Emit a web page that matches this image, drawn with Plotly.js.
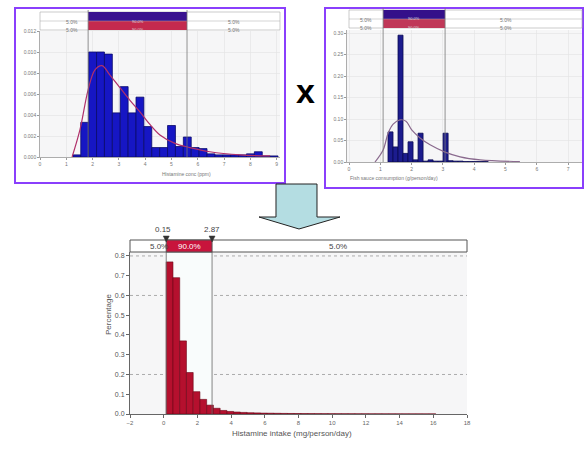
<!DOCTYPE html>
<html><head><meta charset="utf-8">
<script src="https://cdn.plot.ly/plotly-3.0.1.min.js"></script>
<style>html,body{margin:0;padding:0;background:#fff}</style>
</head><body><div id="chart" style="width:584px;height:449px"></div>
<script>
// ---------- DATA ----------
// top-left: histamine concentration
const concBinStart = 1.25, concBinWidth = 0.3;
const concValues = [0.0002,0.0033,0.0100,0.0100,0.0098,0.0042,0.0067,0.0042,0.0057,0.0029,0.0009,0.0009,0.0030,0.0010,0.0019,0.0009,0.0008,0.0003,0.0002,0.0002,0.0002,0.0002,0.0003,0.0005,0.0001,0.0001];
const concFitX = [1.22,1.52,1.83,2.09,2.36,2.66,3.04,3.42,3.80,4.18,4.56,5.13,5.70,6.46,7.61,8.75];
const concFitY = [0,0.0026,0.0064,0.0083,0.0087,0.0078,0.0066,0.0054,0.0043,0.0031,0.0021,0.0013,0.0009,0.0005,0.0002,0.0001];
const concXTicks = [0,1,2,3,4,5,6,7,8,9];
const concYTicks = [0,0.002,0.004,0.006,0.008,0.010,0.012];
const concYLabels = ['0.000','0.002','0.004','0.006','0.008','0.010','0.012'];
const concLimits = [1.83, 5.59];
const concBand = ['5.0%','90.0%','5.0%'];

// top-right: fish sauce consumption
const fishBinStart = 1.246, fishBinWidth = 0.16;
const fishValues = [0.070,0.035,0.295,0.020,0.047,0.005,0.067,0.002,0.005,0.002,0.002,0.067,0.003,0.002,0.002,0.001,0.001,0.001,0.001,0.001];
const fishFitX = [0.83,1.09,1.25,1.41,1.63,1.82,2.01,2.27,2.59,3.07,3.55,4.19,5.46];
const fishFitY = [0,0.028,0.067,0.088,0.098,0.095,0.074,0.056,0.040,0.023,0.012,0.005,0.001];
const fishXTicks = [0,1,2,3,4,5,6,7];
const fishYTicks = [0,0.05,0.10,0.15,0.20,0.25,0.30];
const fishYLabels = ['0.00','0.05','0.10','0.15','0.20','0.25','0.30'];
const fishLimits = [1.09, 3.07];

// bottom: histamine intake
const intakeBinStart = 0.15, intakeBinWidth = 0.4;
const intakeValues = [0.77,0.69,0.37,0.21,0.113,0.074,0.045,0.029,0.018,0.013,0.010,0.008,0.0065,0.0055,0.0045,0.004,0.0035,0.003,0.0027,0.0024,0.0021,0.0019,0.0017,0.0015,0.0014,0.0013,0.0012,0.0011,0.001,0.0009,0.0008,0.0008,0.0007,0.0007,0.0006,0.0006,0.0005,0.0005,0.0004,0.0004];
const intakeXTicks = [-2,0,2,4,6,8,10,12,14,16,18];
const intakeYTicks = [0,0.1,0.2,0.3,0.4,0.5,0.6,0.7,0.8];
const intakeYLabels = ['0.0','0.1','0.2','0.3','0.4','0.5','0.6','0.7','0.8'];
const intakeLimits = [0.15, 2.87];
const intakeLimitLabels = ['0.15','2.87'];
const intakeBand = ['5.0%','90.0%','5.0%'];

// ---------- helpers ----------
const W = 584, H = 449;
const px = x => x / W;
const py = y => 1 - y / H;
const centers = (s, w, v) => v.map((_, i) => s + w * (i + 0.5));

const traces = [
  {type:'bar', x:centers(concBinStart,concBinWidth,concValues), y:concValues, width:concBinWidth,
   marker:{color:'#1616c4', line:{color:'#0a0a6a', width:0.8}}, xaxis:'x', yaxis:'y', hoverinfo:'skip'},
  {type:'scatter', mode:'lines', x:concFitX, y:concFitY, line:{color:'#b0306a', width:1.2, shape:'spline'},
   xaxis:'x', yaxis:'y', hoverinfo:'skip'},
  {type:'bar', x:centers(fishBinStart,fishBinWidth,fishValues), y:fishValues, width:fishBinWidth,
   marker:{color:'#1c1c8e', line:{color:'#0a0a50', width:0.8}}, xaxis:'x2', yaxis:'y2', hoverinfo:'skip'},
  {type:'scatter', mode:'lines', x:fishFitX, y:fishFitY, line:{color:'#8a6a8e', width:1.2, shape:'spline'},
   xaxis:'x2', yaxis:'y2', hoverinfo:'skip'},
  {type:'bar', x:centers(intakeBinStart,intakeBinWidth,intakeValues), y:intakeValues, width:intakeBinWidth,
   marker:{color:'#b5102e', line:{color:'#6a0515', width:0.6}}, xaxis:'x3', yaxis:'y3', hoverinfo:'skip'}
];

const smallFont = {family:'Liberation Sans, Arial', size:5, color:'#777'};
const tickFont = {family:'Liberation Sans, Arial', size:7, color:'#555'};

const shapes = [];
const annotations = [];

// purple frames
shapes.push({type:'rect', xref:'paper', yref:'paper', x0:px(15), x1:px(285), y0:py(183), y1:py(8), line:{color:'#8a3ffc', width:2}});
shapes.push({type:'rect', xref:'paper', yref:'paper', x0:px(325), x1:px(583), y0:py(188), y1:py(8), line:{color:'#8a3ffc', width:2}});

// top band helper
function topBand(xr, lim, left, right, y0, y1, labels, midTop, midBot) {
  const ym = (y0 + y1) / 2;
  shapes.push({type:'rect', xref:'paper', yref:'paper', x0:px(left), x1:px(right), y0:py(y1), y1:py(y0), line:{color:'#aaa', width:0.6}, fillcolor:'#fff', layer:'above'});
  shapes.push({type:'rect', xref:xr, yref:'paper', x0:lim[0], x1:lim[1], y0:py(ym), y1:py(y0), line:{width:0}, fillcolor:midTop, layer:'above'});
  shapes.push({type:'rect', xref:xr, yref:'paper', x0:lim[0], x1:lim[1], y0:py(y1), y1:py(ym), line:{width:0}, fillcolor:midBot, layer:'above'});
  shapes.push({type:'line', xref:'paper', yref:'paper', x0:px(left), x1:px(right), y0:py(ym), y1:py(ym), line:{color:'#aaa', width:0.5}, layer:'above'});
  [y0 + (ym - y0) / 2, ym + (y1 - ym) / 2].forEach(yy => {
    annotations.push({xref:xr, yref:'paper', x:(lim[0] + lim[1]) / 2, y:py(yy), text:labels[1], showarrow:false, font:{family:'Liberation Sans', size:4, color:'#ddd'}});
  });
}

// top-left band + limit lines
topBand('x', concLimits, 40, 280, 12, 30, concBand, '#3a1290', '#c42a4e');
[[(40 + 88) / 2, 0], [(187 + 280) / 2, 2]].forEach(([xx, k]) => {
  annotations.push({xref:'paper', yref:'paper', x:px(xx), y:py(17), text:concBand[k], showarrow:false, font:smallFont});
  annotations.push({xref:'paper', yref:'paper', x:px(xx), y:py(25), text:concBand[k], showarrow:false, font:smallFont});
});
concLimits.forEach(v => {
  shapes.push({type:'line', xref:'x', yref:'paper', x0:v, x1:v, y0:py(157), y1:py(10), line:{color:'#777', width:0.8}});
});

// top-right band + limit lines
topBand('x2', fishLimits, 349, 582, 10, 28, concBand, '#34108a', '#c03858');
[[(349 + 383) / 2, 0], [(445 + 582) / 2, 2]].forEach(([xx, k]) => {
  annotations.push({xref:'paper', yref:'paper', x:px(xx), y:py(15), text:concBand[k], showarrow:false, font:smallFont});
  annotations.push({xref:'paper', yref:'paper', x:px(xx), y:py(23), text:concBand[k], showarrow:false, font:smallFont});
});
fishLimits.forEach(v => {
  shapes.push({type:'line', xref:'x2', yref:'paper', x0:v, x1:v, y0:py(162), y1:py(8), line:{color:'#777', width:0.8}});
});

// axis titles (top charts)
annotations.push({xref:'paper', yref:'paper', x:px(160), y:py(174), text:'Histamine conc (ppm)', showarrow:false, font:smallFont});
annotations.push({xref:'paper', yref:'paper', x:px(440), y:py(178), text:'Fish sauce consumption (g/person/day)', showarrow:false, font:smallFont});

// multiply sign
annotations.push({xref:'paper', yref:'paper', x:px(305), y:py(70), text:'<b>x</b>', showarrow:false, font:{family:'Liberation Sans, Arial', size:34, color:'#000'}});

// arrow
const ap = [[276,184],[317,184],[317,217],[340,217],[299,229],[259,217],[276,217]]
  .map((p, i) => (i ? 'L' : 'M') + px(p[0]).toFixed(4) + ',' + py(p[1]).toFixed(4)).join(' ') + ' Z';
shapes.push({type:'path', xref:'paper', yref:'paper', path:ap, fillcolor:'#b4dde2', line:{color:'#222', width:1}});

// bottom chart: background zones
shapes.push({type:'rect', xref:'x3', yref:'y3', x0:intakeLimits[0], x1:intakeLimits[1], y0:0, y1:0.82, fillcolor:'#f9fcfc', line:{width:0}, layer:'below'});
[0.2, 0.6, 0.8].forEach(g => {
  shapes.push({type:'line', xref:'paper', yref:'y3', x0:px(130), x1:px(467), y0:g, y1:g, line:{color:'#999', width:0.8, dash:'dot'}, layer:'below'});
});
intakeLimits.forEach(v => {
  shapes.push({type:'line', xref:'x3', yref:'paper', x0:v, x1:v, y0:py(414), y1:py(240), line:{color:'#666', width:0.8}});
});
// bottom band
shapes.push({type:'rect', xref:'paper', yref:'paper', x0:px(130), x1:px(467), y0:py(252), y1:py(240), fillcolor:'#fff', line:{color:'#555', width:1}, layer:'above'});
shapes.push({type:'rect', xref:'x3', yref:'paper', x0:intakeLimits[0], x1:intakeLimits[1], y0:py(252), y1:py(240), fillcolor:'#c8143c', line:{color:'#555', width:1}, layer:'above'});
// limit markers: small downward triangles on the band's top edge
const triHalf = 3 / 16.85; // 3 px in intake units
intakeLimits.forEach(v => {
  shapes.push({type:'path', xref:'x3', yref:'paper', layer:'above',
    path:'M' + (v - triHalf) + ',' + py(236) + ' L' + (v + triHalf) + ',' + py(236) + ' L' + v + ',' + py(242) + ' Z',
    fillcolor:'#333', line:{color:'#333', width:0.5}});
});
annotations.push({xref:'paper', yref:'paper', x:px(148), y:py(246), text:intakeBand[0], showarrow:false, font:{family:'Liberation Sans', size:8, color:'#444'}});
annotations.push({xref:'x3', yref:'paper', x:(intakeLimits[0] + intakeLimits[1]) / 2, y:py(246), text:intakeBand[1], showarrow:false, font:{family:'Liberation Sans', size:8, color:'#fff'}});
annotations.push({xref:'paper', yref:'paper', x:px(338), y:py(246), text:intakeBand[2], showarrow:false, font:{family:'Liberation Sans', size:8, color:'#444'}});
intakeLimits.forEach((v, i) => {
  annotations.push({xref:'x3', yref:'paper', x:v, y:py(229), text:intakeLimitLabels[i], showarrow:false, xshift:(i ? 0 : -3), font:{family:'Liberation Sans', size:8, color:'#444'}});
});
annotations.push({xref:'paper', yref:'paper', x:px(102), y:py(337), text:'Percentage', textangle:-90, showarrow:false, font:{family:'Liberation Sans', size:8, color:'#555'}});
annotations.push({xref:'paper', yref:'paper', x:px(292), y:py(440), text:'Histamine intake (mg/person/day)', showarrow:false, font:{family:'Liberation Sans', size:8, color:'#555'}});

const smallAxis = (extra) => Object.assign({
  showline:true, linecolor:'#999', linewidth:0.8, ticks:'outside', ticklen:2, tickcolor:'#999',
  tickfont:smallFont, showgrid:true, gridcolor:'#e2e2e2', gridwidth:0.6, zeroline:false, fixedrange:true
}, extra);

const layout = {
  width:W, height:H, autosize:false,
  margin:{l:0, r:0, t:0, b:0},
  paper_bgcolor:'#fff', plot_bgcolor:'#f6f6f7',
  showlegend:false, bargap:0,
  xaxis: smallAxis({domain:[px(40), px(280)], range:[0, 9.125], tickvals:concXTicks, anchor:'y'}),
  yaxis: smallAxis({domain:[py(157), py(31)], range:[0, 0.012], tickvals:concYTicks, ticktext:concYLabels, anchor:'x'}),
  xaxis2: smallAxis({domain:[px(347), px(582)], range:[-0.064, 7.444], tickvals:fishXTicks, anchor:'y2'}),
  yaxis2: smallAxis({domain:[py(162), py(30)], range:[0, 0.307], tickvals:fishYTicks, ticktext:fishYLabels, anchor:'x2'}),
  xaxis3: {domain:[px(130), px(467)], range:[-2, 18], tickvals:intakeXTicks, anchor:'y3',
    showline:true, linecolor:'#666', linewidth:1, ticks:'outside', ticklen:3, tickcolor:'#666',
    tickfont:{family:'Liberation Sans', size:6, color:'#666'}, showgrid:false, zeroline:false, fixedrange:true},
  yaxis3: {domain:[py(414), py(252)], range:[0, 0.82], tickvals:intakeYTicks, ticktext:intakeYLabels, anchor:'x3',
    showline:true, linecolor:'#666', linewidth:1, ticks:'outside', ticklen:3, tickcolor:'#666',
    tickfont:tickFont, showgrid:false, zeroline:false, fixedrange:true},
  shapes, annotations
};

Plotly.newPlot('chart', traces, layout, {staticPlot:true, displayModeBar:false});
</script>
</body></html>
